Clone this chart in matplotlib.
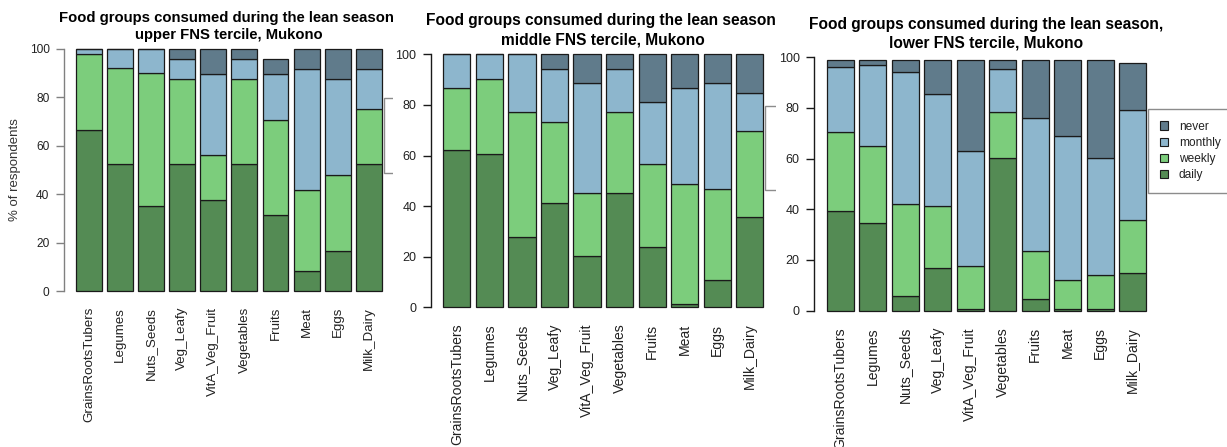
import matplotlib.pyplot as plt
from matplotlib.patches import Patch, Rectangle
import numpy as np

plt.rcParams['font.family'] = ['Liberation Sans', 'DejaVu Sans']

# Lebensmittelgruppen (x-Achse)
kategorien = ['GrainsRootsTubers', 'Legumes', 'Nuts_Seeds', 'Veg_Leafy',
              'VitA_Veg_Fruit', 'Vegetables', 'Fruits', 'Meat', 'Eggs',
              'Milk_Dairy']

# % of respondents, upper FNS tercile
upper_daily   = [66.7, 52.3, 35.2, 52.3, 37.5, 52.3, 31.4,  8.3, 16.5, 52.3]
upper_weekly  = [31.2, 39.7, 54.9, 35.4, 18.8, 35.3, 39.4, 33.3, 31.3, 22.8]
upper_monthly = [ 2.1,  8.0,  9.9,  8.0, 33.5,  8.1, 19.0, 50.3, 39.8, 16.8]
upper_never   = [ 0.0,  0.0,  0.0,  4.3, 10.2,  4.3,  5.9,  8.1, 12.4,  8.1]

# middle FNS tercile
middle_daily   = [62.1, 60.5, 27.9, 41.4, 20.4, 45.3, 24.0,  1.3, 10.8, 35.6]
middle_weekly  = [24.7, 29.9, 49.4, 32.0, 24.7, 32.0, 32.5, 47.6, 36.1, 34.0]
middle_monthly = [13.2,  9.6, 22.7, 20.9, 43.4, 17.0, 24.8, 37.9, 41.6, 15.1]
middle_never   = [ 0.0,  0.0,  0.0,  5.7, 11.5,  5.7, 18.7, 13.2, 11.5, 15.3]

# lower FNS tercile
lower_daily   = [39.2, 34.7,  5.7, 16.9,  0.5, 60.3,  4.5,  0.5,  0.5, 15.0]
lower_weekly  = [31.3, 30.3, 36.4, 24.4, 17.3, 18.0, 18.9, 11.6, 13.5, 20.8]
lower_monthly = [25.6, 31.8, 52.1, 44.3, 45.3, 17.0, 52.8, 56.7, 46.4, 43.3]
lower_never   = [ 2.8,  2.1,  4.7, 13.3, 35.8,  3.6, 22.7, 30.1, 38.5, 18.8]

stufen = ['daily', 'weekly', 'monthly', 'never']
farben = {'daily': '#548B54', 'weekly': '#7CCD7C',
          'monthly': '#8DB6CD', 'never': '#607B8B'}

W, H = 1227, 447
fig = plt.figure(figsize=(W / 100, H / 100), dpi=100)

# drei zusammengeklebte R-Plots, jeder ueberdeckt den linken Nachbarn
panels = [
    dict(daten=[upper_daily, upper_weekly, upper_monthly, upper_never],
         zeile2='upper FNS tercile, Mukono',
         region=(63.8, 39.3, 394.0, 300.7), bild_links=0,
         skala=0.956, titel_y=(21.7, 39.2), achsfarbe='#808080'),
    dict(daten=[middle_daily, middle_weekly, middle_monthly, middle_never],
         zeile2='middle FNS tercile, Mukono',
         region=(430.5, 44.2, 776.1, 317.4), bild_links=393,
         skala=1.0, titel_y=(25.4, 44.5), achsfarbe='#1a1a1a'),
    dict(daten=[lower_daily, lower_weekly, lower_monthly, lower_never],
         zeile2='lower FNS tercile, Mukono',
         region=(813.9, 47.2, 1159.1, 320.8), bild_links=776,
         skala=1.0, titel_y=(29.0, 47.4), achsfarbe='#1a1a1a'),
]

for nr, p in enumerate(panels):
    links, oben, rechts, unten = p['region']
    s = p['skala']

    # weisser Hintergrund des jeweiligen Bildausschnitts
    if p['bild_links'] > 0:
        fig.add_artist(Rectangle((p['bild_links'] / W, 0),
                                 1 - p['bild_links'] / W, 1,
                                 transform=fig.transFigure,
                                 facecolor='white', edgecolor='none',
                                 zorder=nr + 0.5))

    ax = fig.add_axes([links / W, 1 - unten / H,
                       (rechts - links) / W, (unten - oben) / H])
    ax.set_zorder(nr + 1)
    ax.patch.set_alpha(0)

    # gestapelte Balken wie bei barplot() (space = 0.2)
    x = 0.7 + 1.2 * np.arange(len(kategorien))
    boden = np.zeros(len(kategorien))
    for stufe, werte in zip(stufen, p['daten']):
        ax.bar(x, werte, bottom=boden, width=1.0, color=farben[stufe],
               edgecolor='#1a1a1a', linewidth=0.9)
        boden += np.array(werte)

    ax.set_xlim(-0.272, 12.472)
    ax.set_ylim(-4, 104)

    for seite in ['top', 'right', 'bottom']:
        ax.spines[seite].set_visible(False)
    ax.spines['left'].set_bounds(0, 100)
    ax.spines['left'].set_color(p['achsfarbe'])
    ax.spines['left'].set_linewidth(1.0)

    ax.set_yticks([0, 20, 40, 60, 80, 100])
    ax.tick_params(axis='y', direction='out', length=5.5, width=1.0,
                   pad=4.8, color=p['achsfarbe'], labelcolor='#222222',
                   labelsize=9.0 * s)
    ax.set_xticks(x)
    ax.set_xticklabels(kategorien, rotation=90)
    ax.tick_params(axis='x', length=0, pad=4.5, labelcolor='#222222',
                   labelsize=10.1 * s)

    # Titel, zweizeilig
    mitte = (links + rechts) / 2 / W
    ax.text(mitte, 1 - p['titel_y'][0] / H,
            'Food groups consumed during the lean season,',
            transform=fig.transFigure, ha='center', va='baseline',
            fontsize=11.2 * s, fontweight='bold')
    ax.text(mitte, 1 - p['titel_y'][1] / H, p['zeile2'],
            transform=fig.transFigure, ha='center', va='baseline',
            fontsize=11.2 * s, fontweight='bold')

    if nr == 0:
        ax.text(15 / W, 1 - 170 / H, '% of respondents', rotation=90,
                transform=fig.transFigure, ha='center', va='center',
                fontsize=10.0 * s, color='#333333')

    # Legende rechts; bei Panel 1 und 2 ist nur der linke Rand sichtbar
    if nr == len(panels) - 1:
        beschriftung = list(reversed(stufen))
    else:
        beschriftung = [' '] * len(stufen)
    griffe = [Patch(facecolor=farben[st], edgecolor='#1a1a1a',
                    linewidth=0.8, label=b)
              for st, b in zip(reversed(stufen), beschriftung)]
    leg = ax.legend(handles=griffe, loc='upper left',
                    bbox_to_anchor=(12.07, 79.6), bbox_transform=ax.transData,
                    fancybox=False, framealpha=1, edgecolor='#8c8c8c',
                    fontsize=8.6 * s, handlelength=0.7, handleheight=0.7,
                    handletextpad=0.9, labelspacing=0.36, borderpad=0.97,
                    borderaxespad=0)
    leg.get_frame().set_linewidth(1.0)
    for t in leg.get_texts():
        t.set_color('#222222')

fig.savefig('out.png', dpi=100)
